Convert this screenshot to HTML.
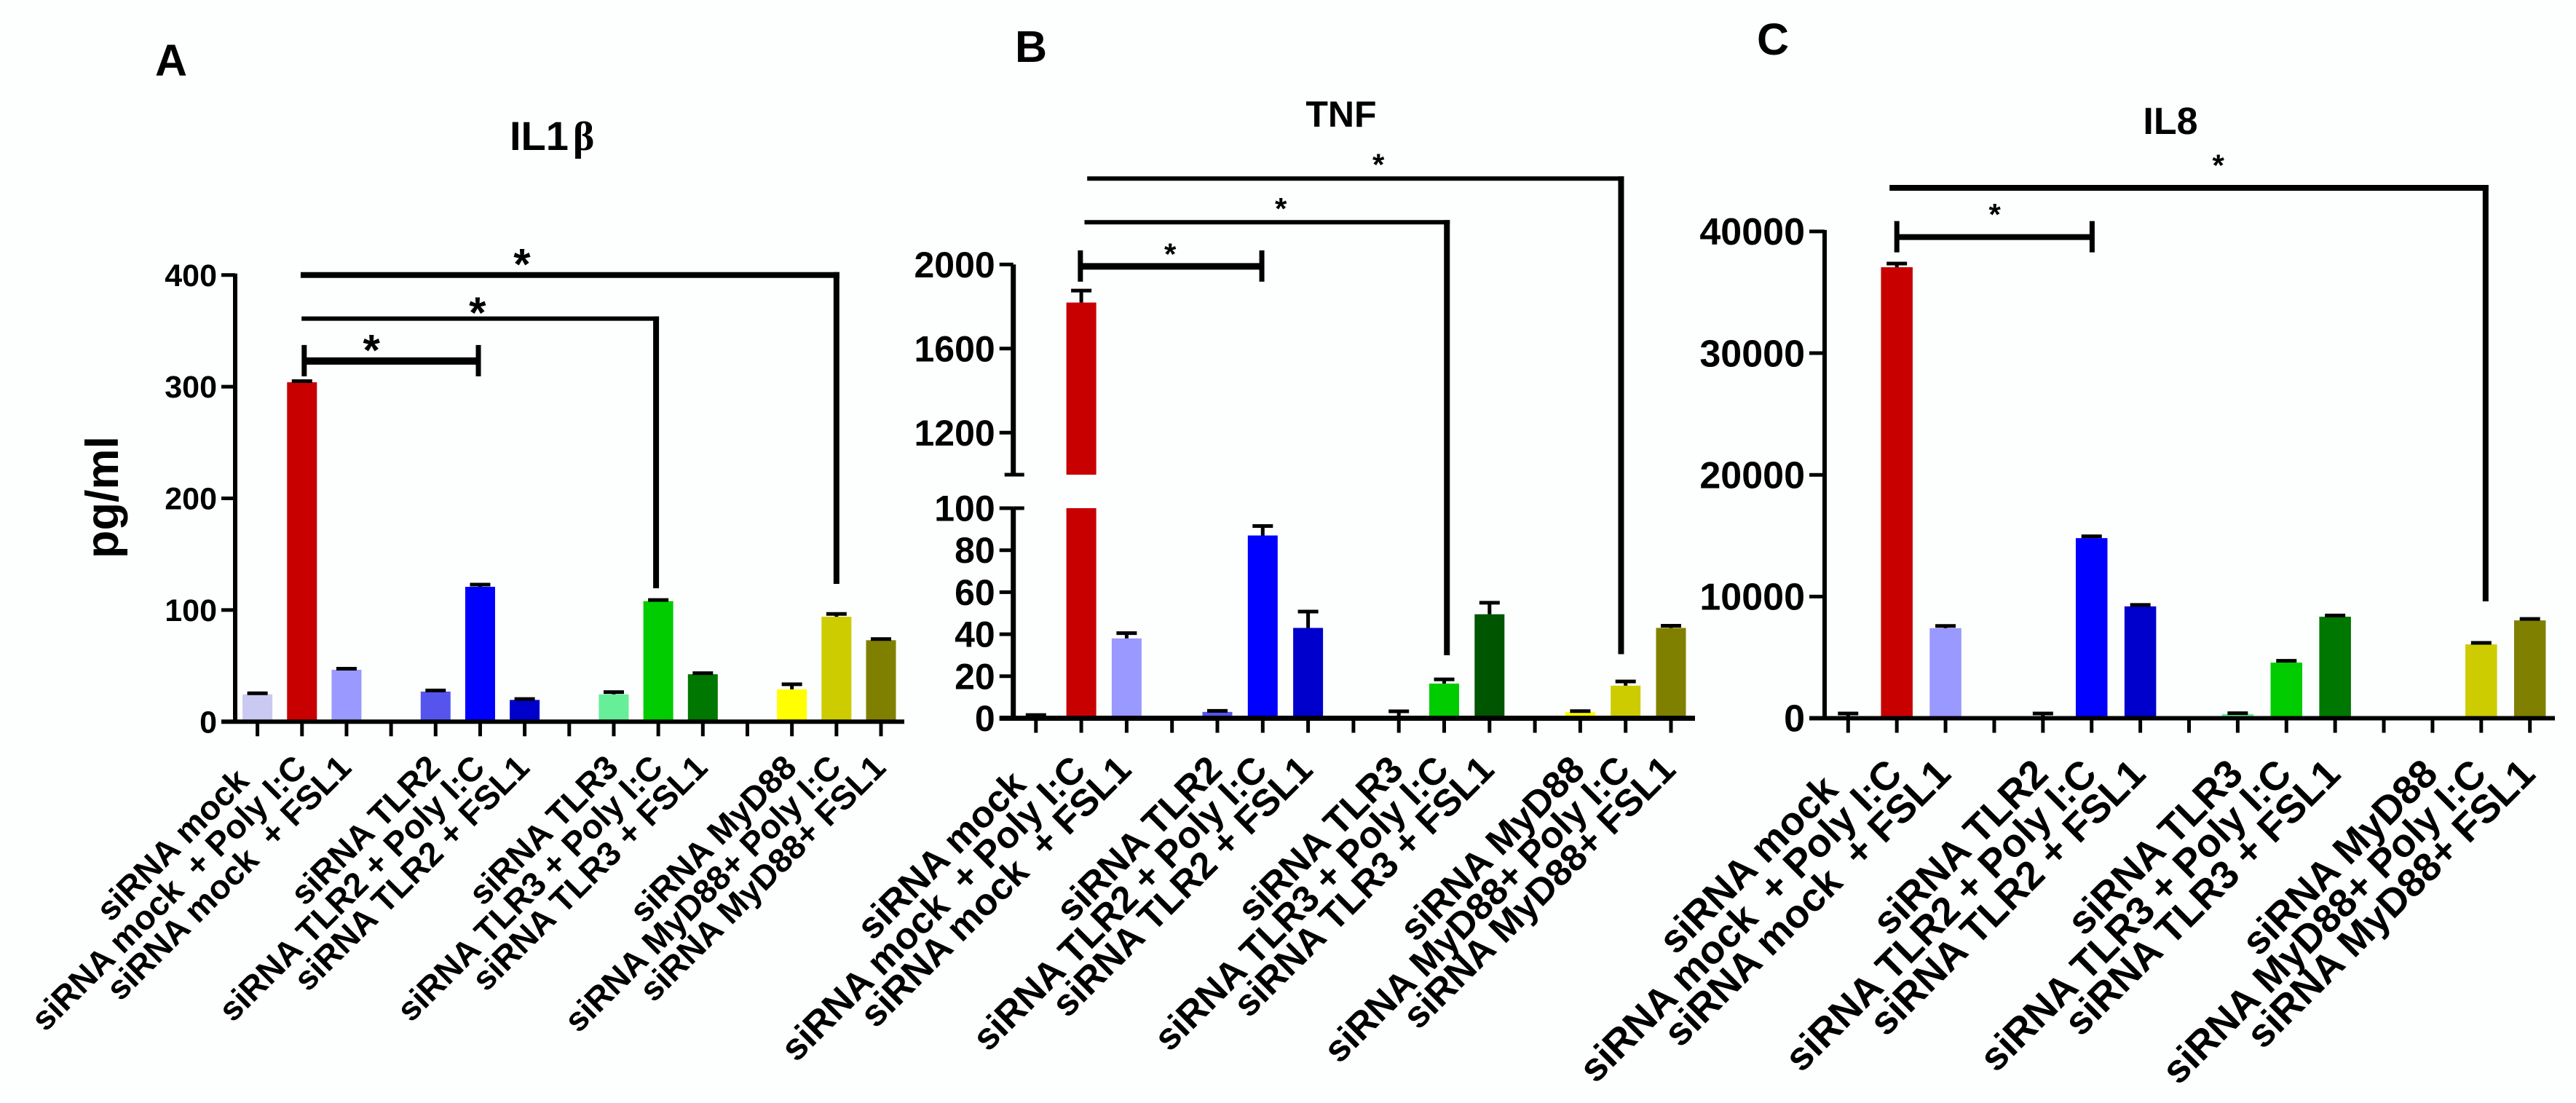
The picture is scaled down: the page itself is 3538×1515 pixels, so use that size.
<!DOCTYPE html>
<html lang="en">
<head>
<meta charset="utf-8">
<title>Cytokine levels after siRNA knockdown</title>
<style>
html,body{margin:0;padding:0;background:#fdfefe;}
svg{display:block;}
text{font-family:"Liberation Sans",sans-serif;font-weight:bold;fill:#000;}
</style>
</head>
<body>
<svg id="figure" xmlns="http://www.w3.org/2000/svg" width="3538" height="1515" viewBox="0 0 3538 1515">
  <rect x="0" y="0" width="3538" height="1515" fill="#fdfefe"/>
  <text x="235" y="104" font-size="61" text-anchor="middle">A</text>
  <text x="1416" y="85" font-size="61" text-anchor="middle">B</text>
  <text x="2435" y="75" font-size="61" text-anchor="middle">C</text>
  <text x="700" y="206" font-size="56">IL1<tspan dx="6" style="font-family:'Liberation Serif','DejaVu Serif',serif">β</tspan></text>
  <text x="1842" y="174" font-size="50" text-anchor="middle">TNF</text>
  <text x="2981" y="184" font-size="52" text-anchor="middle">IL8</text>
  <text transform="translate(162,683) rotate(-90)" font-size="63" text-anchor="middle">pg/ml</text>
</svg>
<script>
// Shared categories (blank entries are spacer positions on the axis)
const categories = [
  'siRNA mock\u00a0\u00a0', 'siRNA mock \u00a0+ Poly I:C', 'siRNA mock \u00a0+ FSL1', '',
  'siRNA TLR2', 'siRNA TLR2 + Poly I:C', 'siRNA TLR2 + FSL1', '',
  'siRNA TLR3', 'siRNA TLR3 + Poly I:C', 'siRNA TLR3 + FSL1', '',
  'siRNA MyD88', 'siRNA MyD88+ Poly I:C', 'siRNA MyD88+ FSL1'
];
const barColors = ['#c9c9f2','#c80000','#9999ff',null,'#5555ee','#0000ff','#0000cc',null,'#66ee99','#00cc00','#007700',null,'#ffff00','#cccc00','#808000'];
const tnfBarColors = ['#c9c9f2','#c80000','#9999ff',null,'#5555ee','#0000ff','#0000cc',null,'#66ee99','#00cc00','#005500',null,'#ffff00','#cccc00','#808000'];

// Panel A: IL1-beta
const il1bValues = [24.5,304,46.5,null,27,120.8,19.5,null,24.5,108,42.5,null,29,94,73];
const il1bErrors = [1,1,1,null,1,2,0.8,null,2,1,1,null,4.5,2.5,1];
const il1bTicks = [0,100,200,300,400];
const il1bBrackets = [
  {from:0.97,to:13.0,level:400,end:123.4,thick:8,caps:false,starCat:5.94,starGap:28},
  {from:0.99,to:8.95,level:361,end:119.5,thick:6,caps:false,starCat:4.94,starGap:21},
  {from:1.05,to:4.96,level:323,end:null,thick:10,caps:true,starCat:2.56,starGap:28}
];

// Panel B: TNF (broken axis)
const tnfValues = [1,1819,38,null,3,87,43,null,0.5,16.5,49.5,null,3,15.5,43];
const tnfErrors = [0.5,57,2.5,null,0.5,4.5,7.8,null,2.8,2,5.5,null,0.4,2,1];
const tnfTicks = [0,20,40,60,80,100,1200,1600,2000];
const tnfBrackets = [
  {from:1.13,to:12.9,level:2409,end:30.5,thick:6,caps:false,starCat:7.55,starGap:28},
  {from:1.07,to:9.06,level:2201,end:30,thick:6,caps:false,starCat:5.40,starGap:28},
  {from:0.98,to:4.98,level:1991,end:null,thick:9,caps:true,starCat:2.96,starGap:26}
];

// Panel C: IL8
const il8Values = [50,37060,7400,null,50,14800,9190,null,350,4570,8340,null,null,6070,8040];
const il8Errors = [340,300,180,null,340,150,120,null,60,150,100,null,null,120,120];
const il8Ticks = [0,10000,20000,30000,40000];
const il8Brackets = [
  {from:0.85,to:13.09,level:43584,end:9602,thick:8,caps:false,starCat:7.6,starGap:40},
  {from:1.0,to:5.01,level:39540,end:null,thick:8,caps:true,starCat:3.01,starGap:40}
];

const SVGNS = 'http://www.w3.org/2000/svg';
const svg = document.getElementById('figure');
function node(parent, tag, attrs) {
  const el = document.createElementNS(SVGNS, tag);
  for (const k in attrs) el.setAttribute(k, attrs[k]);
  parent.appendChild(el);
  return el;
}
function linearScale(d0, d1, r0, r1) {
  return function (v) { return r0 + (v - d0) * (r1 - r0) / (d1 - d0); };
}

function drawPanel(p) {
  const g = node(svg, 'g', {});
  
  
  const xAt = linearScale(0, 14, p.x0, p.x14);
  const lower = linearScale(0, p.lowMax, p.y0, p.yLowMax);
  const upper = p.upMin === undefined ? null : linearScale(p.upMin, p.upMax, p.yUpMin, p.yUpMax);
  const yAt = function (v) { return (upper && v > p.lowMax) ? upper(v) : lower(v); };

  // bars and error bars
  p.values.forEach(function (v, i) {
    if (v === null) return;
    const cx = xAt(i);
    const bx = cx - p.barW / 2;
    if (upper && v > p.lowMax) {
      const lowBar = node(g, 'rect', {x: bx, y: lower(p.lowMax), width: p.barW, height: lower(0) - lower(p.lowMax), fill: p.colors[i]});
      
      
      const upBar = node(g, 'rect', {x: bx, y: upper(v), width: p.barW, height: upper(p.upMin) - upper(v), fill: p.colors[i]});
      
      
    } else {
      const bar = node(g, 'rect', {x: bx, y: yAt(v), width: p.barW, height: lower(0) - yAt(v), fill: p.colors[i]});
      
      
    }
    const top = yAt(v + p.errors[i]);
    const stem = node(g, 'line', {x1: cx, x2: cx, y1: yAt(v), y2: top, stroke: '#000', 'stroke-width': 5});
    
    
    const cap = node(g, 'line', {x1: cx - 14, x2: cx + 14, y1: top, y2: top, stroke: '#000', 'stroke-width': 5});
    
    
  });

  // y axis
  if (upper) {
    const axisLow = node(g, 'line', {x1: p.axisX, x2: p.axisX, y1: lower(0), y2: lower(p.lowMax), stroke: '#000', 'stroke-width': p.axisW});
    
    
    const axisUp = node(g, 'line', {x1: p.axisX, x2: p.axisX, y1: upper(p.upMin), y2: upper(p.upMax), stroke: '#000', 'stroke-width': p.axisW});
    
    
    const breakTop = node(g, 'line', {x1: p.axisX - 12, x2: p.axisX + 15, y1: upper(p.upMin), y2: upper(p.upMin), stroke: '#000', 'stroke-width': 5});
    
    
    const breakLow = node(g, 'line', {x1: p.axisX, x2: p.axisX + 15, y1: lower(p.lowMax), y2: lower(p.lowMax), stroke: '#000', 'stroke-width': 5});
    
    
  } else {
    const axis = node(g, 'line', {x1: p.axisX, x2: p.axisX, y1: lower(0), y2: lower(p.lowMax) - 2, stroke: '#000', 'stroke-width': p.axisW});
    
    
  }
  p.ticks.forEach(function (t) {
    const y = yAt(t);
    const tick = node(g, 'line', {x1: p.axisX - p.tickLen, x2: p.axisX, y1: y, y2: y, stroke: '#000', 'stroke-width': 5});
    
    
    const lab = node(g, 'text', {x: p.axisX - p.tickLen - 6, y: y + p.tickFont * 0.35, 'font-size': p.tickFont, 'text-anchor': 'end'});
    
    
    lab.textContent = String(t);
  });

  // x axis
  const xAxis = node(g, 'line', {x1: p.axisX - p.tickLen, x2: p.xEnd, y1: lower(0), y2: lower(0), stroke: '#000', 'stroke-width': p.axisW});
  
  
  categories.forEach(function (c, i) {
    const x = xAt(i);
    const tick = node(g, 'line', {x1: x, x2: x, y1: lower(0), y2: lower(0) + 20, stroke: '#000', 'stroke-width': 5});
    
    
    if (!c) return;
    const lab = node(g, 'text', {transform: 'translate(' + (x + p.labDx) + ',' + p.labY + ') rotate(-45)', 'font-size': p.labFont, 'text-anchor': 'end'});
    
    
    lab.textContent = c;
  });

  // significance brackets
  p.brackets.forEach(function (b) {
    const x1 = xAt(b.from), x2 = xAt(b.to), y = yAt(b.level);
    const h = node(g, 'line', {x1: x1, x2: x2 + (b.caps ? 0 : 4), y1: y, y2: y, stroke: '#000', 'stroke-width': b.thick});
    
    
    if (b.caps) {
      const capL = node(g, 'line', {x1: x1, x2: x1, y1: y - 22, y2: y + 21, stroke: '#000', 'stroke-width': 7});
      
      
      const capR = node(g, 'line', {x1: x2, x2: x2, y1: y - 22, y2: y + 21, stroke: '#000', 'stroke-width': 7});
      
      
    } else {
      const drop = node(g, 'line', {x1: x2, x2: x2, y1: y - b.thick / 2, y2: yAt(b.end), stroke: '#000', 'stroke-width': 8});
      
      
    }
    const star = node(g, 'text', {x: xAt(b.starCat), y: y - b.starGap + p.starFont * 0.56, 'font-size': p.starFont, 'text-anchor': 'middle'});
    
    
    star.textContent = '*';
  });
}

drawPanel({name:'panel-a-il1b', values:il1bValues, errors:il1bErrors, ticks:il1bTicks, brackets:il1bBrackets, colors:barColors,
  x0:353.6, x14:1210, y0:991.3, lowMax:400, yLowMax:377.8, axisX:323, axisW:6, tickLen:19, tickFont:43, labFont:46.5, labDx:9, labY:1057, barW:41, xEnd:1242, starFont:60});
drawPanel({name:'panel-b-tnf', values:tnfValues, errors:tnfErrors, ticks:tnfTicks, brackets:tnfBrackets, colors:tnfBarColors,
  x0:1422.8, x14:2295, y0:986.5, lowMax:100, yLowMax:698, upMin:1000, upMax:2000, yUpMin:652, yUpMax:363.3, axisX:1391.7, axisW:7, tickLen:19, tickFont:50, labFont:51.5, labDx:9, labY:1060, barW:41, xEnd:2328, starFont:42});
drawPanel({name:'panel-c-il8', values:il8Values, errors:il8Errors, ticks:il8Ticks, brackets:il8Brackets, colors:barColors,
  x0:2538.3, x14:3474.7, y0:986.5, lowMax:40000, yLowMax:317.9, axisX:2506, axisW:6, tickLen:21, tickFont:52, labFont:54.5, labDx:10, labY:1066, barW:43.5, xEnd:3509, starFont:42});
</script>
</body>
</html>
